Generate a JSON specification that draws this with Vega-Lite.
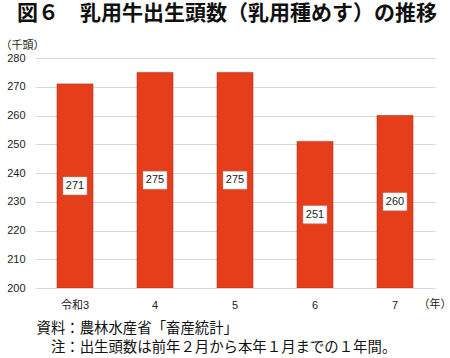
{
  "$schema": "https://vega.github.io/schema/vega-lite/v6.json",
  "width": 400,
  "height": 230,
  "autosize": {"type": "none"},
  "padding": {"left": 35, "top": 58, "right": 15, "bottom": 70},
  "background": "white",
  "config": {"font": "Liberation Sans, Noto Sans CJK JP", "view": {"stroke": null}},
  "title": {
    "text": "図６　乳用牛出生頭数（乳用種めす）の推移",
    "font": "Noto Sans CJK JP",
    "fontSize": 21,
    "fontWeight": "bold",
    "color": "#111111",
    "anchor": "middle",
    "frame": "group",
    "dx": -8,
    "offset": 15
  },
  "data": {
    "values": [
      {"year": "令和3", "value": 271},
      {"year": "4", "value": 275},
      {"year": "5", "value": 275},
      {"year": "6", "value": 251},
      {"year": "7", "value": 260}
    ]
  },
  "encoding": {
    "x": {
      "field": "year",
      "type": "ordinal",
      "sort": null,
      "scale": {"paddingInner": 0.55, "paddingOuter": 0.275},
      "axis": {
        "zindex": 2,
        "labelAngle": 0,
        "labelFontSize": 11,
        "labelColor": "#222222",
        "labelPadding": 11,
        "ticks": false,
        "domain": false,
        "grid": false,
        "title": ["資料：農林水産省「畜産統計」", "\u200b\u3000注：出生頭数は前年２月から本年１月までの１年間。"],
        "titleFont": "Noto Sans CJK JP",
        "titleFontSize": 14.4,
        "titleFontWeight": "normal",
        "titleColor": "#111111",
        "titleAlign": "left",
        "titleAnchor": "start",
        "titleBaseline": "top",
        "titleLineHeight": 19,
        "titleX": 1,
        "titleY": 33
      }
    }
  },
  "layer": [
    {
      "mark": {"type": "bar", "color": "#E63E1B", "stroke": "#a8391f", "strokeWidth": 0.6, "clip": true},
      "encoding": {
        "y": {
          "field": "value",
          "type": "quantitative",
          "scale": {"domain": [200, 280], "zero": false, "nice": false},
          "axis": {
            "tickCount": 8,
            "grid": true,
            "gridColor": "#d9d9d9",
            "domain": false,
            "ticks": false,
            "labelPadding": 10,
            "labelFontSize": 11,
            "labelColor": "#222222",
            "title": "（千頭）",
            "titleFont": "Noto Sans CJK JP",
            "titleAngle": 0,
            "titleFontSize": 11,
            "titleFontWeight": "normal",
            "titleColor": "#222222",
            "titleAlign": "left",
            "titleBaseline": "middle",
            "titleX": -35,
            "titleY": -13
          }
        },
        "y2": {"datum": 200}
      }
    },
    {
      "encoding": {
        "y": {
          "field": "value",
          "type": "quantitative",
          "scale": {"domain": [200, 360], "zero": false, "nice": false},
          "axis": {
            "orient": "right",
            "labels": false,
            "ticks": false,
            "domain": false,
            "grid": false,
            "title": "（年）",
            "titleFont": "Noto Sans CJK JP",
            "titleAngle": 0,
            "titleFontSize": 11,
            "titleFontWeight": "normal",
            "titleColor": "#222222",
            "titleAlign": "left",
            "titleBaseline": "middle",
            "titleX": -17,
            "titleY": 246
          }
        }
      },
      "layer": [
        {"mark": {"type": "tick", "orient": "horizontal", "size": 24, "thickness": 18, "color": "white", "opacity": 1, "fillOpacity": 1, "stroke": "#999999", "strokeWidth": 0.5}},
        {
          "mark": {"type": "text", "fontSize": 11, "color": "#222222", "align": "center", "baseline": "middle"},
          "encoding": {"text": {"field": "value", "type": "quantitative"}}
        }
      ]
    }
  ],
  "resolve": {"scale": {"y": "independent"}}
}
